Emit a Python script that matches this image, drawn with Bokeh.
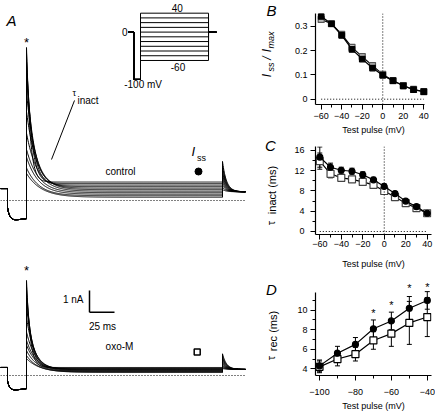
import numpy as np
from bokeh.plotting import figure
from bokeh.models import Range1d, Label, Whisker, ColumnDataSource, FixedTicker, Span, TeeHead
from bokeh.layouts import row, column
from bokeh.embed import file_html
from bokeh.resources import INLINE
from bokeh.core.properties import value

FONT = "Liberation Sans"

# ---------------- panel B : Iss / Imax ----------------
test_v = [-60, -50, -40, -30, -20, -10, 0, 10, 20, 30, 40]
iss_ctrl = [0.340, 0.310, 0.262, 0.205, 0.165, 0.128, 0.098, 0.076, 0.055, 0.039, 0.031]
iss_ctrl_err = [0.010, 0.006, 0.008, 0.010, 0.008, 0.007, 0.006, 0.005, 0.004, 0.003, 0.003]
iss_oxo = [0.328, 0.310, 0.266, 0.213, 0.175, 0.138, 0.102, 0.076, 0.056, 0.040, 0.031]
iss_oxo_err = [0.012, 0.006, 0.008, 0.010, 0.008, 0.007, 0.006, 0.005, 0.004, 0.003, 0.003]

# ---------------- panel C : tau inact ----------------
tau_inact_ctrl = [14.7, 12.7, 12.1, 11.9, 11.2, 10.2, 8.9, 7.5, 6.0, 4.9, 3.6]
tau_inact_ctrl_err = [2.0, 0.8, 0.6, 0.6, 0.6, 0.5, 0.5, 0.4, 0.3, 0.3, 0.2]
tau_inact_oxo = [13.9, 11.4, 10.6, 10.3, 9.8, 9.2, 8.0, 6.8, 5.6, 4.6, 3.6]
tau_inact_oxo_err = [1.6, 0.8, 0.5, 0.4, 0.4, 0.4, 0.4, 0.3, 0.3, 0.3, 0.2]

# ---------------- panel D : tau rec ----------------
rec_v = [-100, -90, -80, -70, -60, -50, -40]
tau_rec_ctrl = [4.3, 5.6, 6.5, 8.1, 8.9, 10.2, 11.0]
tau_rec_ctrl_err = [0.6, 0.7, 0.7, 0.9, 0.9, 1.2, 0.9]
tau_rec_oxo = [4.2, 5.0, 5.5, 6.9, 7.6, 8.7, 9.3]
tau_rec_oxo_err = [0.6, 0.7, 0.7, 0.9, 1.3, 2.2, 2.0]
signif_v = [-70, -60, -50, -40]
signif_y = [9.95, 10.75, 12.45, 12.55]

# ---------------- panel A : current traces (nA, ms) ----------------
t_prepulse, t_test, t_off, t_end, t_inset_start = 7, 26, 222, 245, -9
prepulse_v, hold_v = -100, 0
ctrl_peak = [1.25, 1.5, 2.0, 2.35, 3.1, 4.1, 5.0, 5.8, 6.4, 6.8, 7.05]
ctrl_ss = [0.15, 0.22, 0.29, 0.36, 0.43, 0.50, 0.57, 0.64, 0.71, 0.78, 0.85]
ctrl_tail = [1.80, 1.62, 1.46, 1.32, 1.18, 1.05, 0.93, 0.81, 0.70, 0.60, 0.50]
ctrl_hold = [0.55, -0.32, -0.95, 0.40]   # before, prepulse start, prepulse end, after
oxo_peak = [0.78, 0.92, 1.15, 1.40, 1.62, 2.00, 2.67, 3.20, 3.70, 4.10, 4.38]
oxo_ss = [0.14, 0.165, 0.19, 0.21, 0.235, 0.26, 0.28, 0.30, 0.32, 0.345, 0.37]
oxo_tail = [1.00, 0.90, 0.81, 0.73, 0.65, 0.58, 0.52, 0.46, 0.41, 0.36, 0.32]
oxo_hold = [0.37, -0.25, -0.72, 0.28]


def trace(peak, tau, ss, tail, hold):
    h0, d0, d1, h1 = hold
    t1 = np.array([0.0, t_prepulse])
    i1 = np.array([h0, h0])
    t2 = np.linspace(t_prepulse, t_test, 60)
    i2 = d1 + (d0 - d1) * np.exp(-(t2 - t_prepulse) / 2.2) + 0.006 * (t2 - t_prepulse)
    t3 = np.linspace(t_test, t_off, 500)
    i3 = ss + (peak - ss) * np.exp(-(t3 - t_test) / tau)
    t4 = np.linspace(t_off, t_end, 80)
    i4 = h1 + (tail - h1) * np.exp(-(t4 - t_off) / 4.0)
    return np.concatenate([t1, t2, t3, t4]), np.concatenate([i1, i2, i3, i4])


# ================= Panel A (also carries the labels left of B, C, D) =================
A_W, H = 287, 415
pA = figure(width=A_W, height=H, x_range=Range1d(0, A_W), y_range=Range1d(-9.908, 9.217),
            x_axis_type=None, y_axis_type=None, toolbar_location=None, output_backend="svg",
            min_border=0)
pA.grid.visible = False
pA.outline_line_color = None
pA.extra_y_ranges = {"oxo": Range1d(-1.843, 17.281), "ins_v": Range1d(-810.6, 66.8),
                     "pix": Range1d(H, 0)}
pA.extra_x_ranges = {"ins_t": Range1d(-377.5, 449.6), "pix": Range1d(0, A_W)}

cx, cy, ox, oy = [], [], [], []
for k in range(len(test_v)):
    a, b = trace(ctrl_peak[k], tau_inact_ctrl[k], ctrl_ss[k], ctrl_tail[k], ctrl_hold)
    cx.append(a); cy.append(b)
    a, b = trace(oxo_peak[k], tau_inact_oxo[k], oxo_ss[k], oxo_tail[k], oxo_hold)
    ox.append(a); oy.append(b)
pA.multi_line(cx, cy, line_color="black", line_width=1)
pA.multi_line(ox, oy, line_color="black", line_width=1, y_range_name="oxo")
pA.segment(x0=[0], y0=[0], x1=[t_end], y1=[0], line_color="black", line_dash="1 2", line_width=1)
pA.segment(x0=[0], y0=[0], x1=[t_end], y1=[0], line_color="black", line_dash="1 2", line_width=1,
           y_range_name="oxo")

# voltage protocol inset
px, py = [], []
for v in test_v:
    px.append([t_inset_start, t_prepulse, t_prepulse, t_test, t_test, t_off, t_off, t_end])
    py.append([hold_v, hold_v, prepulse_v, prepulse_v, v, v, hold_v, hold_v])
pA.multi_line(px, py, line_color="black", line_width=1, x_range_name="ins_t", y_range_name="ins_v")


def lab(p, x, y, text, size="10px", align="left", baseline="middle", style="normal", angle=0, **kw):
    p.add_layout(Label(x=x, y=y, text=text, text_font=FONT, text_font_size=size, text_align=align,
                       text_baseline=baseline, text_font_style=style, text_color="black",
                       angle=angle, angle_units="deg", **kw))


INS = dict(x_range_name="ins_t", y_range_name="ins_v")
PIX = dict(x_range_name="pix", y_range_name="pix")

lab(pA, -11, 0, "0", align="right", **INS)
lab(pA, (t_test + t_off) / 2 + 8, 52, "40", align="center", **INS)
lab(pA, (t_test + t_off) / 2 + 10, -74, "-60", align="center", **INS)
lab(pA, (t_prepulse + t_test) / 2 + 17, -111, "-100 mV", align="center", **INS)

# scale bar 1 nA / 25 ms
sb_t, sb_i, sb_len_t, sb_len_i = 89, -5.15, 25, 1
pA.segment(x0=[sb_t, sb_t], y0=[sb_i, sb_i], x1=[sb_t, sb_t + sb_len_t], y1=[sb_i + sb_len_i, sb_i],
           line_color="black", line_width=1.5)
lab(pA, 83, -4.55, "1 nA", align="right")
lab(pA, 102, -5.55, "25 ms", align="center", baseline="top")

# labels
lab(pA, 6, 8.3, "A", size="15px", baseline="alphabetic", style="italic")
pA.text(x=[t_test], y=[7.4], text=["*"], text_font=value(FONT), text_font_size="13px",
        text_align="center", text_baseline="middle", y_offset=3)
pA.text(x=[t_test], y=[4.98], text=["*"], text_font=value(FONT), text_font_size="13px",
        text_align="center", text_baseline="middle", y_offset=3, y_range_name="oxo")
lab(pA, 120, 1.34, "control", align="center")
lab(pA, 119, 1.33, "oxo-M", align="center", y_range_name="oxo")
pA.scatter(x=[198], y=[1.336], size=7, marker="circle", fill_color="black", line_color="black")
pA.scatter(x=[196.7], y=[1.08], size=6, marker="square", fill_color="white", line_color="black",
           line_width=1.5, y_range_name="oxo")
lab(pA, 191, 2.25, "I", size="13px", baseline="alphabetic", style="italic")
lab(pA, 196.5, 1.95, "ss", size="9px", baseline="alphabetic")
lab(pA, 72, 4.95, "τ", size="9px", baseline="alphabetic")
lab(pA, 77, 4.6, "inact", size="10px", baseline="alphabetic")
pA.segment(x0=[74], y0=[4.61], x1=[51], y1=[1.89], line_color="black", line_width=1)

# panel letters and y-axis titles of B, C, D (pixel coordinates, centred pieces)
CEN = dict(align="center", baseline="middle")
lab(pA, 271, 10, "B", size="15px", style="italic", **CEN, **PIX)
lab(pA, 266, 75, "I", size="12px", style="italic", angle=90, **CEN, **PIX)
lab(pA, 270, 66.5, "ss", size="9px", style="italic", angle=90, **CEN, **PIX)
lab(pA, 266, 57.5, "/", size="12px", style="italic", angle=90, **CEN, **PIX)
lab(pA, 266, 50, "I", size="12px", style="italic", angle=90, **CEN, **PIX)
lab(pA, 270, 39.5, "max", size="9px", style="italic", angle=90, **CEN, **PIX)

lab(pA, 270, 145, "C", size="15px", style="italic", **CEN, **PIX)
lab(pA, 270, 222.5, "τ", size="11px", angle=90, **CEN, **PIX)
lab(pA, 271, 189.5, "inact (ms)", size="11px", angle=90, **CEN, **PIX)

lab(pA, 271, 289, "D", size="15px", style="italic", **CEN, **PIX)
lab(pA, 270.5, 357.5, "τ", size="11px", angle=90, **CEN, **PIX)
lab(pA, 272, 329, "rec  (ms)", size="11px", angle=90, **CEN, **PIX)


# ================= right panels =================
def panel(xr, yr, top, fh, bottom, xt, xmt, yt, ymt, ybounds, xbounds=None,
          tick_std=2, lab_std=4, ytick_std=3):
    p = figure(frame_width=116, frame_height=fh, min_border_left=315 - A_W, min_border_right=4,
               min_border_top=top, min_border_bottom=bottom, x_range=Range1d(*xr),
               y_range=Range1d(*yr), toolbar_location=None, output_backend="svg")
    p.grid.visible = False
    p.outline_line_color = None
    p.xaxis.ticker = FixedTicker(ticks=xt, minor_ticks=xmt)
    p.yaxis.ticker = FixedTicker(ticks=yt, minor_ticks=ymt)
    p.yaxis.bounds = ybounds
    if xbounds is not None:
        p.xaxis.bounds = xbounds
    for ax in (p.xaxis[0], p.yaxis[0]):
        ax.axis_line_color = "black"
        ax.axis_line_width = 1.2
        ax.major_tick_line_color = "black"
        ax.minor_tick_line_color = "black"
        ax.major_tick_in = 0
        ax.major_tick_out = 5
        ax.minor_tick_in = 0
        ax.minor_tick_out = 3
        ax.major_label_text_font = FONT
        ax.major_label_text_font_size = "9px"
        ax.major_label_text_color = "black"
    p.xaxis.major_label_standoff = tick_std
    p.yaxis.major_label_standoff = ytick_std
    p.xaxis.axis_label = "Test pulse (mV)"
    p.xaxis.axis_label_text_font = FONT
    p.xaxis.axis_label_text_font_size = "9px"
    p.xaxis.axis_label_text_font_style = "normal"
    p.xaxis.axis_label_text_color = "black"
    p.xaxis.axis_label_standoff = lab_std
    return p


def series(p, x, y, err, marker, fill, line, size, lw=1.2):
    src = ColumnDataSource(dict(x=x, y=y, lo=[a - e for a, e in zip(y, err)],
                                hi=[a + e for a, e in zip(y, err)]))
    p.add_layout(Whisker(source=src, base="x", upper="hi", lower="lo", line_color="black", line_width=1,
                         upper_head=TeeHead(size=5, line_color="black", line_width=1),
                         lower_head=TeeHead(size=5, line_color="black", line_width=1)))
    p.line("x", "y", source=src, line_color="black", line_width=lw)
    p.scatter("x", "y", source=src, marker=marker, size=size, fill_color=fill, line_color=line,
              line_width=1.2)


# ---- B ----
B_xr, B_yr = (-65.56, 47.5), (-0.0218, 0.3522)
pB = panel(B_xr, B_yr, 13, 91, 34, [-60, -40, -20, 0, 20, 40], [-50, -30, -10, 10, 30],
           [0.0, 0.1, 0.2, 0.3], [], (-0.0218, 0.3522), xbounds=(-65.56, 40.8), tick_std=3, lab_std=3)
pB.add_layout(Span(location=0, dimension="height", line_color="black", line_dash="1 2", line_width=1))
pB.segment(x0=[test_v[0]], y0=[0], x1=[test_v[-1]], y1=[0], line_color="black", line_dash="1 2")
series(pB, test_v, iss_oxo, iss_oxo_err, "square", "#bbbbbb", "#555555", 6)
series(pB, test_v, iss_ctrl, iss_ctrl_err, "square", "black", "black", 5.5)

# ---- C ----
C_xr, C_yr = (-64.0, 44.0), (-0.593, 16.79)
pC = panel(C_xr, C_yr, 8, 88, 42, [-60, -40, -20, 0, 20, 40], [-50, -30, -10, 10, 30],
           [0, 4, 8, 12, 16], [2, 6, 10, 14], (-0.593, 16.79), tick_std=1, lab_std=9, ytick_std=6)
pC.add_layout(Span(location=0, dimension="height", line_color="black", line_dash="1 2", line_width=1))
pC.segment(x0=[test_v[0]], y0=[0], x1=[test_v[-1]], y1=[0], line_color="black", line_dash="1 2")
series(pC, test_v, tau_inact_oxo, tau_inact_oxo_err, "square", "white", "#444444", 7)
series(pC, test_v, tau_inact_ctrl, tau_inact_ctrl_err, "circle", "black", "black", 6)

# ---- D ----
D_xr, D_yr = (-102.23, -37.66), (3.314, 13.04)
pD = panel(D_xr, D_yr, 4, 95, 40, [-100, -80, -60, -40], [-90, -70, -50],
           [4, 6, 8, 10], [5, 7, 9, 11], (3.314, 11.8), tick_std=8, lab_std=3, ytick_std=3)
series(pD, rec_v, tau_rec_oxo, tau_rec_oxo_err, "square", "white", "black", 7)
series(pD, rec_v, tau_rec_ctrl, tau_rec_ctrl_err, "circle", "black", "black", 6)
pD.text(x=signif_v, y=signif_y, text=["*"] * len(signif_v), text_font=value(FONT), text_font_size="11px",
        text_align="center", text_baseline="middle", y_offset=2)

root = row(pA, column(pB, pC, pD))
open("out.html", "w").write(file_html(root, INLINE))
